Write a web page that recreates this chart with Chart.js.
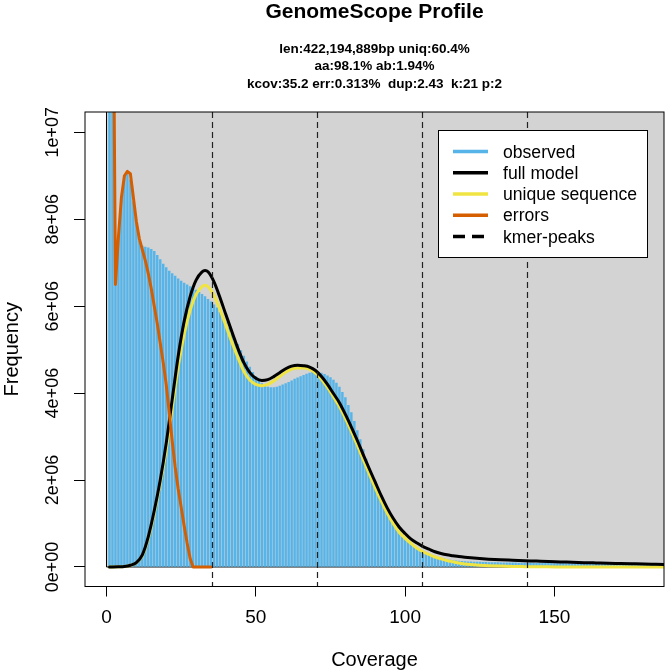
<!DOCTYPE html>
<html lang="en">
<head>
<meta charset="UTF-8">
<title>GenomeScope Profile</title>
<script src="https://cdn.jsdelivr.net/npm/chart.js"></script>
<style>
  html, body { margin: 0; padding: 0; background: #fff; }
  #wrap { width: 666px; height: 672px; }
</style>
</head>
<body>
<div id="wrap"><canvas id="profile" width="666" height="672"></canvas></div>
<script>
const FONT = "'Liberation Sans', Arial, Helvetica, sans-serif";

// titles
const mainTitle = 'GenomeScope Profile';
const subTitle = [
  'len:422,194,889bp uniq:60.4%',
  'aa:98.1% ab:1.94%',
  'kcov:35.2 err:0.313%  dup:2.43  k:21 p:2'
];

// axis ticks (frequency in millions)
const xTicks = [0, 50, 100, 150];
const yTicks = [0, 2, 4, 6, 8, 10];
const yTickLabels = ['0e+00', '2e+06', '4e+06', '6e+06', '8e+06', '1e+07'];

// observed k-mer histogram, coverage 1, 2, 3, ... (frequency in millions)
const observedFreq = [
  60, 14, 6.5, 7.6, 8.5, 9.0, 9.1, 8.9, 8.4, 7.9,
  7.5, 7.38, 7.36, 7.34, 7.31, 7.26, 7.17, 7.07, 6.97, 6.89,
  6.81, 6.75, 6.69, 6.63, 6.58, 6.53, 6.49, 6.45, 6.41, 6.37,
  6.32, 6.27, 6.22, 6.16, 6.10, 6.03, 5.96, 5.86, 5.74, 5.62,
  5.50, 5.38, 5.25, 5.12, 4.98, 4.85, 4.72, 4.60, 4.48, 4.38,
  4.29, 4.22, 4.17, 4.14, 4.13, 4.13, 4.14, 4.16, 4.19, 4.22,
  4.25, 4.28, 4.32, 4.35, 4.38, 4.41, 4.44, 4.46, 4.48, 4.49,
  4.48, 4.46, 4.43, 4.40, 4.36, 4.30, 4.23, 4.14, 4.02, 3.90,
  3.72, 3.55, 3.35, 3.14, 2.93, 2.70, 2.48, 2.27, 2.07, 1.88,
  1.70, 1.54, 1.39, 1.25, 1.13, 1.01, 0.91, 0.82, 0.73, 0.66,
  0.59, 0.53, 0.48, 0.43, 0.39, 0.35, 0.32, 0.29, 0.26, 0.24,
  0.22, 0.20, 0.185, 0.172, 0.16, 0.15, 0.142, 0.135, 0.129, 0.124,
  0.12, 0.117, 0.114, 0.112, 0.11, 0.108, 0.106, 0.104, 0.102, 0.10,
  0.099, 0.098, 0.097, 0.096, 0.095, 0.094, 0.093, 0.092, 0.091, 0.09,
  0.089, 0.088, 0.087, 0.086, 0.085, 0.084, 0.083, 0.082, 0.081, 0.08,
  0.079, 0.078, 0.077, 0.077, 0.076, 0.075, 0.074, 0.074, 0.073, 0.072,
  0.071, 0.071, 0.07, 0.069, 0.069, 0.068, 0.067, 0.067, 0.066, 0.065,
  0.065, 0.064, 0.064, 0.063, 0.062, 0.062, 0.061, 0.061, 0.06, 0.06,
  0.059, 0.059, 0.058, 0.058, 0.057, 0.057
];

// fitted curves
const fitCov = [
  1, 2, 4, 6, 8, 10, 12, 14, 16, 18,
  20, 22, 24, 26, 28, 30, 32, 33, 34, 36,
  38, 40, 42, 44, 46, 48, 50, 52, 54, 56,
  58, 60, 62, 64, 66, 68, 70, 72, 74, 76,
  78, 80, 82, 84, 86, 88, 90, 92, 94, 96,
  98, 100, 102, 104, 106, 108, 110, 112, 114, 116,
  118, 120, 124, 128, 132, 136, 140, 144, 148, 152,
  156, 160, 164, 168, 172, 176, 180, 184, 188
];
const fullModel = [
  0, 0, 0.003, 0.012, 0.04, 0.1, 0.28, 0.7, 1.3, 2.0,
  2.85, 3.85, 4.85, 5.65, 6.22, 6.6, 6.79, 6.82, 6.79, 6.56,
  6.2, 5.8, 5.41, 5.03, 4.7, 4.47, 4.34, 4.29, 4.31, 4.38,
  4.47, 4.56, 4.62, 4.64, 4.63, 4.6, 4.52, 4.38, 4.2, 3.99,
  3.78, 3.51, 3.22, 2.91, 2.58, 2.26, 1.95, 1.64, 1.36, 1.12,
  0.92, 0.77, 0.64, 0.55, 0.47, 0.41, 0.35, 0.31, 0.28, 0.26,
  0.24, 0.225, 0.2, 0.18, 0.165, 0.155, 0.145, 0.135, 0.125, 0.117,
  0.108, 0.1, 0.093, 0.086, 0.08, 0.074, 0.068, 0.063, 0.058
];
const uniqueSeq = [
  0, 0, 0.003, 0.011, 0.037, 0.093, 0.26, 0.66, 1.24, 1.93,
  2.7, 3.65, 4.6, 5.35, 5.9, 6.27, 6.45, 6.48, 6.45, 6.25,
  5.92, 5.55, 5.17, 4.82, 4.5, 4.3, 4.2, 4.17, 4.2, 4.28,
  4.38, 4.48, 4.55, 4.58, 4.58, 4.55, 4.46, 4.32, 4.13, 3.92,
  3.69, 3.42, 3.12, 2.8, 2.47, 2.14, 1.82, 1.52, 1.24, 1.0,
  0.8, 0.66, 0.54, 0.43, 0.35, 0.29, 0.23, 0.19, 0.15, 0.12,
  0.09, 0.07, 0.045, 0.03, 0.02, 0.012, 0.008, 0.005, 0.003, 0.002,
  0.001, 0.001, 0, 0, 0, 0, 0, 0, 0
];

// error k-mers, coverage 1, 2, 3, ...
const errorFreq = [
  60, 16, 6.5, 7.6, 8.5, 9.0, 9.1, 9.05, 8.5, 7.95,
  7.55, 7.3, 7.05, 6.75, 6.4, 6.0, 5.6, 5.15, 4.7, 4.2,
  3.55, 2.9, 2.3, 1.8, 1.38, 0.95, 0.55, 0.2, 0, 0,
  0, 0, 0, 0, 0
];

const kmerPeaks = [35.2, 70.4, 105.6, 140.8];

const COL_BG = '#d3d3d3';
const COL_HIST = '#56B4E9';
const COL_FULL = '#000000';
const COL_UNIQ = '#F0E442';
const COL_ERR = '#D55E00';

// grey model region, frame, peaks, legend and titles
const profileDecor = {
  id: 'profileDecor',
  beforeDatasetsDraw(chart) {
    const { ctx, chartArea: a, scales: { x, y } } = chart;
    const x0 = x.getPixelForValue(0);
    const y0 = y.getPixelForValue(0);
    ctx.save();
    ctx.beginPath();
    ctx.rect(a.left, a.top, a.right - a.left, a.bottom - a.top);
    ctx.clip();
    ctx.fillStyle = COL_BG;
    ctx.fillRect(x0, a.top, a.right - x0, y0 - a.top);
    ctx.strokeStyle = '#000';
    ctx.lineWidth = 1;
    ctx.beginPath();
    ctx.moveTo(x0, a.top);
    ctx.lineTo(x0, y0);
    ctx.lineTo(a.right, y0);
    ctx.stroke();
    ctx.restore();
  },
  afterDatasetsDraw(chart) {
    const { ctx, chartArea: a, scales: { x } } = chart;
    ctx.save();
    // kmer peaks
    ctx.strokeStyle = '#222';
    ctx.lineWidth = 1.2;
    ctx.setLineDash([6, 4]);
    kmerPeaks.forEach(p => {
      const px = Math.round(x.getPixelForValue(p)) + 0.5;
      ctx.beginPath();
      ctx.moveTo(px, a.top);
      ctx.lineTo(px, a.bottom);
      ctx.stroke();
    });
    ctx.setLineDash([]);
    // frame
    ctx.strokeStyle = '#000';
    ctx.lineWidth = 1;
    ctx.strokeRect(a.left, a.top, a.right - a.left, a.bottom - a.top);
    // legend
    const lx = 438.5, ly = 130.5, lw = 209, lh = 127;
    ctx.fillStyle = '#fff';
    ctx.fillRect(lx, ly, lw, lh);
    ctx.strokeRect(lx, ly, lw, lh);
    ctx.font = '17.6px ' + FONT;
    ctx.textAlign = 'left';
    ctx.textBaseline = 'alphabetic';
    chart.data.datasets.forEach((ds, i) => {
      const ry = 151.5 + i * 21.25;
      ctx.strokeStyle = ds.legendColor;
      ctx.lineWidth = 3.5;
      ctx.setLineDash(ds.legendDash || []);
      ctx.beginPath();
      ctx.moveTo(453, ry);
      ctx.lineTo(488, ry);
      ctx.stroke();
      ctx.setLineDash([]);
      ctx.fillStyle = '#000';
      ctx.fillText(ds.label, 503, ry + 6);
    });
    ctx.restore();
  },
  afterDraw(chart) {
    const { ctx, chartArea: a } = chart;
    const cx = (a.left + a.right) / 2;
    ctx.save();
    ctx.fillStyle = '#000';
    ctx.textAlign = 'center';
    ctx.textBaseline = 'alphabetic';
    ctx.font = 'bold 21px ' + FONT;
    ctx.fillText(mainTitle, cx, 18);
    ctx.font = 'bold 13.5px ' + FONT;
    subTitle.forEach((t, i) => ctx.fillText(t, cx, 52.5 + i * 17.5));
    ctx.restore();
  }
};

const lineStyle = {
  type: 'line',
  borderWidth: 3,
  pointRadius: 0,
  fill: false,
  borderJoinStyle: 'round',
  borderCapStyle: 'round'
};

new Chart(document.getElementById('profile'), {
  type: 'bar',
  data: {
    datasets: [
      {
        label: 'observed',
        type: 'bar',
        data: observedFreq.map((v, i) => ({ x: i + 1, y: v })),
        backgroundColor: COL_HIST,
        borderWidth: 0,
        barThickness: 1.8,
        legendColor: COL_HIST,
        order: 5
      },
      Object.assign({}, lineStyle, {
        label: 'full model',
        data: fitCov.map((c, i) => ({ x: c, y: fullModel[i] })),
        borderColor: COL_FULL,
        cubicInterpolationMode: 'monotone',
        legendColor: COL_FULL,
        order: 3
      }),
      Object.assign({}, lineStyle, {
        label: 'unique sequence',
        data: fitCov.map((c, i) => ({ x: c, y: uniqueSeq[i] })),
        borderColor: COL_UNIQ,
        cubicInterpolationMode: 'monotone',
        legendColor: COL_UNIQ,
        order: 4
      }),
      Object.assign({}, lineStyle, {
        label: 'errors',
        data: errorFreq.map((v, i) => ({ x: i + 1, y: v })),
        borderColor: COL_ERR,
        tension: 0,
        legendColor: COL_ERR,
        order: 2
      }),
      {
        label: 'kmer-peaks',
        type: 'line',
        data: [],
        borderColor: '#000',
        legendColor: '#000',
        legendDash: [12, 7],
        order: 1
      }
    ]
  },
  options: {
    responsive: false,
    animation: false,
    devicePixelRatio: 1,
    layout: { padding: { top: 112, right: 2, left: 0, bottom: 0 } },
    plugins: {
      legend: { display: false },
      tooltip: { enabled: false },
      title: { display: false }
    },
    scales: {
      x: {
        type: 'linear',
        min: -7.2,
        max: 186.7,
        offset: false,
        afterBuildTicks: s => { s.ticks = xTicks.map(v => ({ value: v })); },
        afterFit: s => { s.height = 85.5; },
        grid: { drawOnChartArea: false, drawTicks: true, tickLength: 10, color: '#000', offset: false },
        border: { display: false },
        ticks: { color: '#000', font: { family: FONT, size: 19 }, padding: 10, maxRotation: 0, autoSkip: false },
        title: { display: true, text: 'Coverage', color: '#000', font: { family: FONT, size: 20 }, padding: { top: 0, bottom: 0 } }
      },
      y: {
        type: 'linear',
        min: -0.449,
        max: 10.467,
        afterBuildTicks: s => { s.ticks = yTicks.map(v => ({ value: v })); },
        afterFit: s => { s.width = 85; },
        grid: { drawOnChartArea: false, drawTicks: true, tickLength: 11, color: '#000' },
        border: { display: false },
        ticks: {
          color: '#000',
          font: { family: FONT, size: 18 },
          callback: (v, i) => yTickLabels[i],
          minRotation: 90,
          maxRotation: 90,
          crossAlign: 'center',
          padding: -4,
          autoSkip: false
        },
        title: { display: true, text: 'Frequency', color: '#000', font: { family: FONT, size: 20 }, padding: { top: 0, bottom: 0 } }
      }
    }
  },
  plugins: [profileDecor]
});
</script>
</body>
</html>
